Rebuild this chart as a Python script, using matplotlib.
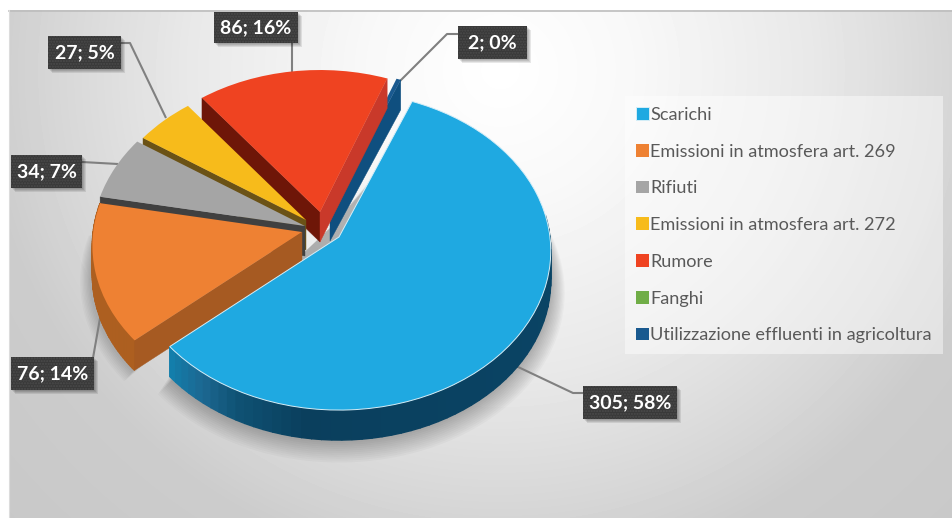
import numpy as np
import matplotlib
matplotlib.use("Agg")
import matplotlib.pyplot as plt
from matplotlib.patches import Rectangle, Polygon
from matplotlib.transforms import Transform
from matplotlib.colors import to_rgb

categories = ["Scarichi", "Emissioni in atmosfera art. 269", "Rifiuti",
              "Emissioni in atmosfera art. 272", "Rumore", "Fanghi",
              "Utilizzazione effluenti in agricoltura"]
values = [305, 76, 34, 27, 86, 0, 2]
percents = [58, 14, 7, 5, 16, 0, 0]
colors = ["#1fa9e1", "#ee8133", "#a5a5a5", "#f7bb1b", "#ef4321", "#70ad47", "#19598f"]

plt.rcParams['font.family'] = ['Lato', 'DejaVu Sans']
W, H = 952, 518
fig = plt.figure(figsize=(W / 100, H / 100), dpi=100, facecolor="white")
ax = fig.add_axes([0, 0, 1, 1])

RX, RY, P, DEPTH = 212.0, 158.8, 0.0875, 30.0

def project(u, v, apex, r):
    u, v = np.asarray(u) * r, np.asarray(v) * r
    den = 1 + P * v
    return apex[0] + RX * u / den, apex[1] - RY * v / den

class Persp(Transform):
    input_dims = output_dims = 2
    def __init__(self, apex, r):
        super().__init__()
        self.apex, self.r = apex, r
    def transform_non_affine(self, xy):
        xy = np.asarray(xy)
        x, y = project(xy[:, 0], xy[:, 1], self.apex, self.r)
        return np.column_stack([x, y])

wedges, _ = ax.pie(values, startangle=68, counterclock=False, colors=colors, radius=1,
                   wedgeprops=dict(linewidth=0))
ax.set_aspect('auto')
ax.set_axis_on()
ax.set_xlim(0, W)
ax.set_ylim(H, 0)
ax.axis('off')

# background
yy, xx = np.mgrid[10:H, 9:W]
d = np.sqrt(((xx - 500) / 450.0) ** 2 + ((yy - 70) / 440.0) ** 2)
g = np.interp(d, [0, 0.3, 0.7, 1.0, 1.15, 1.5], [255, 248, 232, 214, 204, 200]) / 255
ax.imshow(g, cmap="gray", vmin=0, vmax=1, extent=(9, W, H, 10), aspect='auto', zorder=0, interpolation='bilinear')
ax.set_xlim(0, W)
ax.set_ylim(H, 0)
ax.plot([9, W], [10.5, 10.5], color="#bdbdbd", lw=1.2, zorder=1)
ax.plot([9, 9], [10, H], color="#dcdcdc", lw=0.8, zorder=1)

# slice placement (apex pixel, radius factor, layer)
apexes = {0: (339, 237), 1: (302, 232), 2: (305, 226), 3: (306, 220), 4: (320, 212), 5: (325, 212), 6: (330, 211)}
radii = {0: 0.995, 1: 0.985, 2: 1.0, 3: 0.97, 4: 0.97, 5: 0.96, 6: 0.96}
layer = {6: 20, 5: 20, 4: 22, 3: 24, 2: 26, 1: 28, 0: 30}

def pt(theta, i):
    t = np.radians(theta)
    x, y = project(np.cos(t), np.sin(t), apexes[i], radii[i])
    return float(x), float(y)

def radial_face(i, theta, color):
    ax_, ay = project(0, 0, apexes[i], radii[i])
    ox, oy = pt(theta, i)
    ax.add_patch(Polygon([(ax_, ay), (ox, oy), (ox, oy + DEPTH), (ax_, ay + DEPTH)],
                         closed=True, fc=color, ec=color, lw=0.3, zorder=layer[i]))

def arc_face(i, t0, t1, stops=None, color=None):
    th = np.linspace(t0, t1, 60)
    for a, b in zip(th[:-1], th[1:]):
        if stops is not None:
            c = [np.interp((a + b) / 2, stops[0], [to_rgb(s)[k] for s in stops[1]]) for k in range(3)]
        else:
            c = color
        p, q = pt(a, i), pt(b, i)
        ax.add_patch(Polygon([p, q, (q[0], q[1] + DEPTH), (p[0], p[1] + DEPTH)],
                             closed=True, fc=c, ec=c, lw=1.0, zorder=layer[i]))

# transform the pie slices into the tilted view
for i, w in enumerate(wedges):
    w.set_transform(Persp(apexes[i], radii[i]) + ax.transData)
    w.set_zorder(layer[i] + 1)
    w.set_clip_on(False)
wedges[0].set_edgecolor("#d5eef8")
wedges[0].set_linewidth(0.7)

# shadows
blue = wedges[0]
for k in range(12):
    f = 1.0 + k * 0.0055
    th = np.linspace(blue.theta1, blue.theta2, 120)
    x, y = project(np.cos(np.radians(th)), np.sin(np.radians(th)), apexes[0], f)
    a0 = project(0, 0, apexes[0], 1)
    pts = np.column_stack([np.r_[a0[0] - 10, x], np.r_[a0[1] - 8, y + DEPTH + k * 0.9]])
    ax.add_patch(Polygon(pts, closed=True, fc="black", ec="none", alpha=0.022, zorder=4))
org = wedges[1]
for k in range(8):
    th = np.linspace(org.theta1, org.theta2, 60)
    x, y = project(np.cos(np.radians(th)), np.sin(np.radians(th)), apexes[1], 1.0 + k * 0.006)
    a0 = project(0, 0, apexes[1], 1)
    pts = np.column_stack([np.r_[a0[0], x], np.r_[a0[1], y + DEPTH + k * 0.6]])
    ax.add_patch(Polygon(pts, closed=True, fc="black", ec="none", alpha=0.022, zorder=4))

# side faces
t0 = blue.theta1
arc_face(0, t0, 8,
         stops=([t0, t0 + 13, t0 + 23, t0 + 41, t0 + 81, 8],
                ["#1280ae", "#1c6690", "#0f5274", "#0a3f5d", "#0a4262", "#0a4566"]))
arc_face(1, org.theta1, org.theta2, color="#ad5f20")
radial_face(1, org.theta2, "#a65a22")
radial_face(2, wedges[2].theta2, "#404040")
radial_face(3, wedges[3].theta2, "#6b5216")
radial_face(4, wedges[4].theta2, "#6e1608")
radial_face(4, wedges[4].theta1, "#c9392a")
radial_face(6, wedges[6].theta1, "#0f4f7f")

# leader lines
leaders = {
    0: [(583, 393), (573, 393), (516, 366)],
    1: [(93, 358), (102, 307)],
    2: [(82, 162), (118, 164)],
    3: [(121, 43), (130, 43), (166, 118)],
    4: [(292, 43), (292, 72)],
    6: [(458, 34), (447, 34), (400, 81)],
}
for pts in leaders.values():
    xs, ys = zip(*pts)
    ax.plot(xs, ys, color="#808080", lw=1.5, zorder=8, solid_capstyle='butt')

# data labels
boxes = {0: (583, 386, 94, 33), 1: (11, 357, 83, 33), 2: (11, 155, 71, 33),
         3: (48, 36, 73, 33), 4: (214, 12, 84, 31), 6: (458, 26, 69, 33)}
for i, (x, y, bw, bh) in boxes.items():
    for k in range(4):
        ax.add_patch(Rectangle((x + 1 + k, y + 1 + k), bw, bh, fc="black", ec="none", alpha=0.09, zorder=40))
    ax.add_patch(Rectangle((x, y), bw, bh, fc="#393939", ec="none", zorder=41))
    ax.add_patch(Rectangle((x, y), bw, bh, fc="none", ec="#4b4b4b", lw=0, hatch="......", zorder=42))
    ax.text(x + bw / 2, y + bh / 2, f"{values[i]}; {percents[i]}%", color="white", fontsize=14,
            fontweight="bold", ha="center", va="center", zorder=43)

# legend
leg = ax.legend(wedges, categories, loc="upper left", bbox_to_anchor=(625 / W, 1 - 96 / H),
                borderaxespad=0, frameon=True, fancybox=False, framealpha=0.45, facecolor="white",
                edgecolor="none", fontsize=13.1, labelcolor="#595959", handlelength=0.7,
                handleheight=0.7, handletextpad=0.08, labelspacing=1.14, borderpad=0.6)
leg.set_zorder(7)

fig.savefig("out.png", dpi=100, facecolor="white")
